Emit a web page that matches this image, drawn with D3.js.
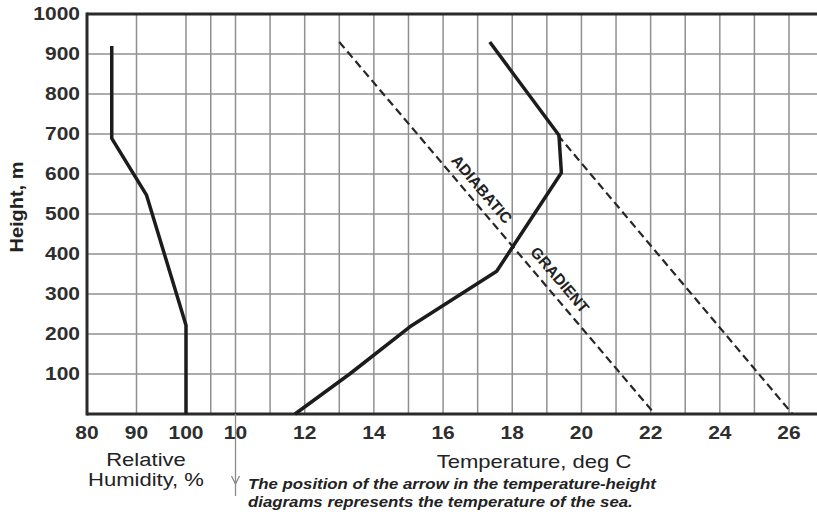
<!DOCTYPE html>
<html>
<head>
<meta charset="utf-8">
<script src="https://cdn.jsdelivr.net/npm/d3@7"></script>
<style>
  html, body { margin: 0; padding: 0; background: #fff; }
  svg { display: block; }
  text { font-family: "Liberation Sans", Arial, Helvetica, sans-serif; fill: #222; }
</style>
</head>
<body>
<svg id="chart" width="817" height="516"></svg>
<script>
// ---- data ----
const heightTicks = [100, 200, 300, 400, 500, 600, 700, 800, 900, 1000];
const humidityTicks = [80, 90, 100];
const humidityGrid = [90, 100, 105];
const temperatureTicks = [10, 12, 14, 16, 18, 20, 22, 24, 26];
const temperatureGrid = [10, 11, 12, 13, 14, 15, 16, 17, 18, 19, 20, 21, 22, 23, 24, 25, 26];

// relative humidity profile (%, m)
const humidityValues = [85, 85, 92, 100, 100];
const humidityHeights = [920, 689, 548, 222, 0];

// temperature profile (deg C, m)
const temperatureValues = [17.35, 19.35, 19.42, 17.55, 15.04, 13.3, 11.72];
const temperatureHeights = [930, 697, 603, 357, 218, 100, 0];

// dry adiabats (deg C, m)
const adiabatA = { temps: [13.0, 22.12], heights: [930, 0] };
const adiabatB = { temps: [19.32, 26.1], heights: [697, 0] };

const seaTemperature = 10;

// ---- layout ----
const W = 817, H = 516;
const plotLeft = 87, plotTop = 14, plotBottom = 414, plotRight = 817;
const SX = 1.16; // horizontal stretch of the lettering

const svg = d3.select("#chart");

const y = d3.scaleLinear().domain([0, 1000]).range([plotBottom, plotTop]);
const xHum = d3.scaleLinear().domain([80, 100]).range([plotLeft, 186]);
const xTemp = d3.scaleLinear().domain([10, 26]).range([235.5, 789]);

function label(g, x, yy, txt, o = {}) {
  const t = g.append("text")
    .attr("transform", `translate(${x},${yy}) rotate(${o.rotate || 0}) scale(${o.sx || SX},1)`)
    .attr("text-anchor", o.anchor || "middle")
    .attr("font-size", o.size || 18)
    .attr("font-weight", o.weight || "normal")
    .attr("font-style", o.style || "normal")
    .text(txt);
  if (o.dy) t.attr("dy", o.dy);
  if (o.fill) t.style("fill", o.fill);
  return t;
}

// ---- grid ----
const grid = svg.append("g").attr("stroke", "#909090").attr("stroke-width", 1.5);
grid.selectAll("line.h").data(heightTicks.filter(d => d < 1000)).join("line")
  .attr("x1", plotLeft).attr("x2", plotRight)
  .attr("y1", d => y(d)).attr("y2", d => y(d));
grid.selectAll("line.vh").data(humidityGrid).join("line")
  .attr("x1", d => xHum(d)).attr("x2", d => xHum(d))
  .attr("y1", plotTop).attr("y2", plotBottom);
grid.selectAll("line.vt").data(temperatureGrid).join("line")
  .attr("x1", d => xTemp(d)).attr("x2", d => xTemp(d))
  .attr("y1", plotTop).attr("y2", plotBottom);

// ---- frame ----
const frame = svg.append("g").attr("stroke", "#2a2a2a").attr("stroke-width", 3).attr("fill", "none");
frame.append("line").attr("x1", plotLeft).attr("x2", plotRight).attr("y1", y(1000)).attr("y2", y(1000));
frame.append("line").attr("x1", plotLeft).attr("x2", plotRight).attr("y1", plotBottom).attr("y2", plotBottom);
frame.append("line").attr("x1", plotLeft).attr("x2", plotLeft).attr("y1", plotTop - 1.5).attr("y2", plotBottom + 1.5);

// ---- adiabats ----
const lineT = d3.line().x(d => xTemp(d[0])).y(d => y(d[1]));
[adiabatA, adiabatB].forEach(a => {
  svg.append("path")
    .attr("d", lineT(d3.zip(a.temps, a.heights)))
    .attr("fill", "none").attr("stroke", "#262626")
    .attr("stroke-width", 2.2).attr("stroke-dasharray", "8,4.5");
});

// labels along the first adiabat
function alongAdiabat(txt, h, offset) {
  const p0 = [xTemp(adiabatA.temps[0]), y(adiabatA.heights[0])];
  const p1 = [xTemp(adiabatA.temps[1]), y(adiabatA.heights[1])];
  const ang = Math.atan2(p1[1] - p0[1], p1[0] - p0[0]);
  const f = (h - adiabatA.heights[0]) / (adiabatA.heights[1] - adiabatA.heights[0]);
  const px = p0[0] + f * (p1[0] - p0[0]);
  const py = p0[1] + f * (p1[1] - p0[1]);
  const nx = Math.sin(ang), ny = -Math.cos(ang);
  label(svg, px + nx * offset, py + ny * offset, txt,
    { rotate: ang * 180 / Math.PI, size: 15.5, weight: "bold", sx: 1.0 });
}
alongAdiabat("ADIABATIC", 540, 8);
alongAdiabat("GRADIENT", 312, 9);

// ---- profiles ----
svg.append("path")
  .attr("d", d3.line().x(d => xHum(d[0])).y(d => y(d[1]))(d3.zip(humidityValues, humidityHeights)))
  .attr("fill", "none").attr("stroke", "#1c1c1c").attr("stroke-width", 3.5)
  .attr("stroke-linejoin", "round");
svg.append("path")
  .attr("d", lineT(d3.zip(temperatureValues, temperatureHeights)))
  .attr("fill", "none").attr("stroke", "#1c1c1c").attr("stroke-width", 3.5)
  .attr("stroke-linejoin", "round");

// ---- sea temperature arrow ----
const ax = xTemp(seaTemperature);
const arrow = svg.append("g").attr("stroke", "#8a8a8a").attr("stroke-width", 1.3).attr("fill", "none");
arrow.append("line").attr("x1", ax).attr("x2", ax).attr("y1", plotBottom).attr("y2", 496);
arrow.append("path").attr("d", `M${ax - 4},${476} L${ax},${484} L${ax + 4},${476}`);

// ---- tick labels ----
const tickG = svg.append("g");
const tickStyle = { size: 17.5, sx: 1.2, weight: "bold", fill: "#2e2e2e" };
heightTicks.forEach(d => label(tickG, 80, y(d), d, { ...tickStyle, anchor: "end", dy: "0.36em" }));
humidityTicks.forEach(d => label(tickG, xHum(d), 439, d, tickStyle));
temperatureTicks.forEach(d => label(tickG, xTemp(d), 439, d, tickStyle));

// ---- axis titles ----
label(svg, 146, 466, "Relative", { size: 19 });
label(svg, 146, 486, "Humidity, %", { size: 19 });
label(svg, 534, 468, "Temperature, deg C", { size: 19 });
label(svg, 23, 207, "Height, m", { size: 19, rotate: -90, weight: "bold", sx: 1.05 });

// ---- note ----
label(svg, 248, 489, "The position of the arrow in the temperature-height",
  { anchor: "start", size: 14.5, weight: "bold", style: "italic", sx: 1.16 });
label(svg, 248, 507, "diagrams represents the temperature of the sea.",
  { anchor: "start", size: 14.5, weight: "bold", style: "italic", sx: 1.16 });
</script>
</body>
</html>
